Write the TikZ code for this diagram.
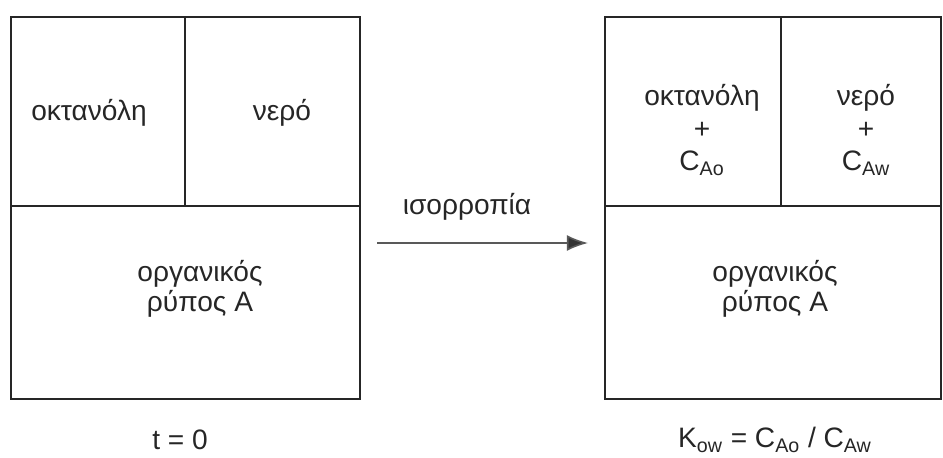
\documentclass[tikz,border=0pt]{standalone}
\usepackage{fontspec}
\setmainfont{Liberation Sans}
\usetikzlibrary{arrows.meta}

\tikzset{
  wall/.style={line width=1pt, draw=black!85},
  txt/.style={font=\fontsize{16}{17}\selectfont, align=center, text=black!85, inner sep=0pt},
  stack/.style={txt, font=\fontsize{16}{18.5}\selectfont},
}

\begin{document}
\begin{tikzpicture}[x=0.02cm, y=-0.02cm]
        \useasboundingbox (0,0) rectangle (943,457);

        % Coordinates
        \coordinate (A1) at (11,17);
        \coordinate (A2) at (360,399);
        \coordinate (B1) at (605,17);
        \coordinate (B2) at (941,399);
        \coordinate (S) at (377,243);
        \coordinate (E) at (588,243);

        % Drawing the two vessels
        \draw[wall] (A1) rectangle (A2);
        \draw[wall] (185,17) -- (185,206);
        \draw[wall] (11,206) -- (360,206);

        \draw[wall] (B1) rectangle (B2);
        \draw[wall] (781,17) -- (781,206);
        \draw[wall] (605,206) -- (941,206);

        % Labels, before
        \node[txt] (octA) at (89,113) {οκτανόλη};
        \node[txt] (watA) at (282,113) {νερό};
        \node[txt] (polA) at (200,289) {οργανικός\\ρύπος A};
        \node[txt] (t0) at (180,440) {t = 0};

        % Labels, after
        \node[stack] (octB) at (702,130) {οκτανόλη\\+\\C\textsubscript{Ao}};
        \node[stack] (watB) at (866,130) {νερό\\+\\C\textsubscript{Aw}};
        \node[txt] (polB) at (775,289) {οργανικός\\ρύπος A};
        \node[txt] (kow) at (775,440) {K\textsubscript{ow} = C\textsubscript{Ao} / C\textsubscript{Aw}};

        % Equilibrium arrow
        \node[txt] (eq) at (467,207) {ισορροπία};
        \draw[black!65, line width=0.9pt, -{Latex[length=12pt, width=9pt, fill=black!80]}] (S) -- (E);
    \end{tikzpicture}
\end{document}
